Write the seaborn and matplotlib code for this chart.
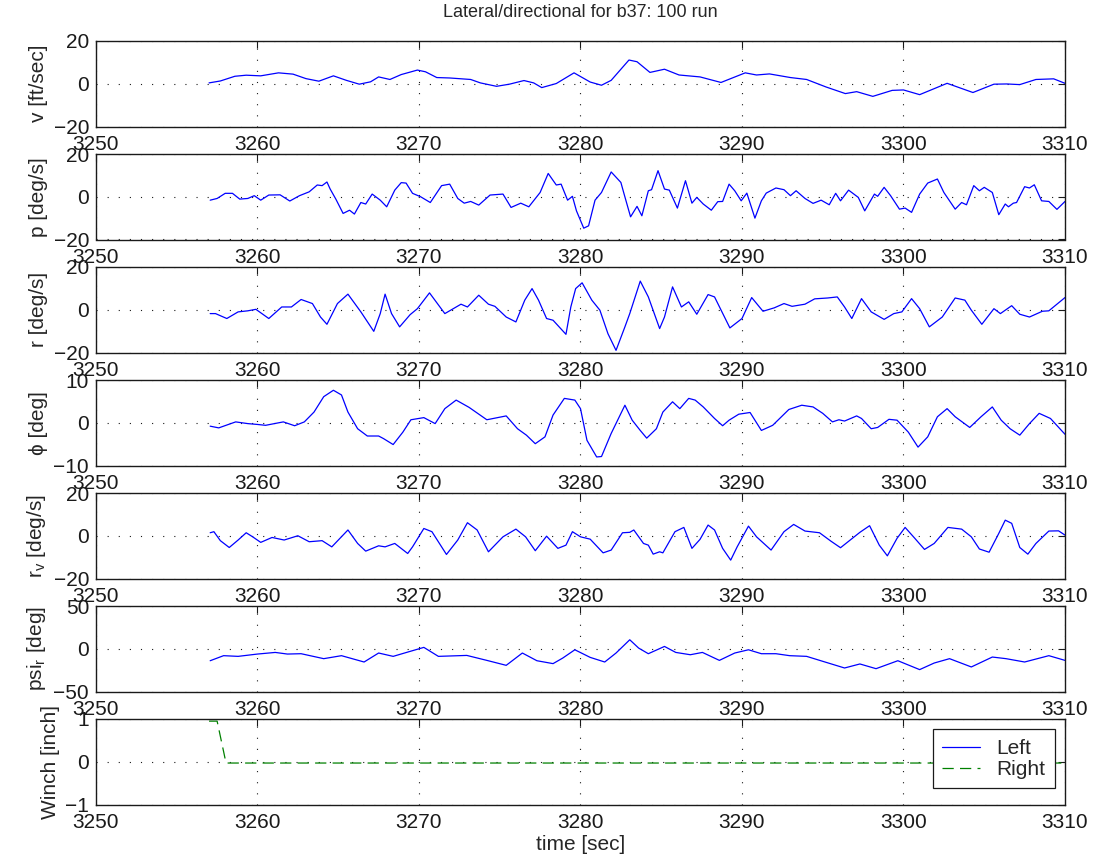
import numpy as np
import pandas as pd
import matplotlib
matplotlib.use("Agg")
import matplotlib.pyplot as plt
from matplotlib.lines import Line2D
import seaborn as sns

# ---------------- data ----------------
t_v = [3257.0, 3257.7, 3258.6, 3259.3, 3260.2, 3261.3, 3262.2, 3263.0, 3263.8, 3264.7,
       3265.5, 3266.3, 3267.0, 3267.5, 3268.2, 3268.9, 3269.9, 3270.4, 3271.1, 3271.9,
       3273.2, 3273.8, 3274.8, 3275.6, 3276.5, 3277.1, 3277.6, 3278.5, 3279.6, 3280.6,
       3281.3, 3281.9, 3283.0, 3283.5, 3284.3, 3285.2, 3286.1, 3287.4, 3288.7, 3290.2,
       3290.9, 3291.7, 3293.0, 3294.0, 3295.2, 3296.4, 3297.1, 3298.1, 3299.3, 3300.0,
       3301.0, 3302.7, 3304.3, 3305.6, 3306.4, 3307.2, 3308.2, 3309.3, 3310.0]
v = [0.4, 1.3, 3.5, 4.0, 3.7, 5.1, 4.5, 2.4, 1.2, 3.7,
     1.6, -0.2, 0.9, 3.2, 2.0, 4.3, 6.4, 5.6, 2.9, 2.7,
     2.0, 0.4, -1.2, -0.2, 1.5, 0.4, -1.8, 0.1, 5.1, 0.8,
     -0.7, 1.6, 11.1, 10.3, 5.3, 6.8, 4.1, 3.2, 0.6, 5.1,
     4.1, 4.6, 2.9, 2.0, -1.5, -4.6, -3.7, -5.9, -3.1, -2.9,
     -5.1, 0.2, -4.1, -0.2, -0.1, -0.4, 2.0, 2.3, 0.2]

t_p = [3257.07, 3257.5, 3258.0, 3258.45, 3258.9, 3259.4, 3259.8, 3260.2, 3260.7, 3261.4,
       3262.0, 3262.6, 3263.2, 3263.7, 3264.0, 3264.3, 3264.5, 3264.85, 3265.3, 3265.7,
       3266.0, 3266.4, 3266.7, 3267.1, 3267.6, 3268.0, 3268.5, 3268.9, 3269.2, 3269.6,
       3270.1, 3270.7, 3271.4, 3271.9, 3272.4, 3272.8, 3273.2, 3273.7, 3274.4, 3275.2,
       3275.7, 3276.3, 3276.8, 3277.5, 3278.0, 3278.5, 3278.8, 3279.2, 3279.5, 3279.75,
       3280.2, 3280.5, 3280.9, 3281.3, 3281.9, 3282.5, 3282.7, 3283.1, 3283.5, 3283.8,
       3284.2, 3284.4, 3284.8, 3285.2, 3285.5, 3286.0, 3286.5, 3286.9, 3287.2, 3287.6,
       3288.1, 3288.5, 3288.8, 3289.2, 3289.55, 3289.95, 3290.3, 3290.8, 3291.2, 3291.5,
       3292.1, 3292.6, 3293.0, 3293.35, 3293.9, 3294.4, 3294.9, 3295.4, 3295.8, 3296.1,
       3296.6, 3297.2, 3297.6, 3298.2, 3298.4, 3298.8, 3299.2, 3299.75, 3300.1, 3300.5,
       3301.0, 3301.5, 3302.1, 3302.5, 3303.2, 3303.6, 3303.9, 3304.35, 3304.7, 3305.0,
       3305.5, 3305.9, 3306.3, 3306.5, 3306.8, 3307.0, 3307.5, 3307.8, 3308.1, 3308.55,
       3309.0, 3309.5, 3310.0]
p = [-1.6, -0.8, 1.6, 1.6, -1.1, -0.8, 0.5, -1.6, 0.8, 0.9,
     -2.0, 0.5, 2.3, 5.5, 5.2, 6.9, 3.6, -1.1, -7.8, -6.3,
     -8.1, -2.7, -3.4, 1.25, -1.6, -4.7, 3.1, 6.6, 6.4, 1.6,
     0.0, -2.7, 5.2, 5.9, -0.8, -3.0, -2.2, -3.9, 0.8, 1.25,
     -5.0, -3.0, -4.7, 2.0, 10.9, 5.5, 5.9, -1.6, 0.2, -6.6,
     -14.7, -13.6, -1.6, 2.0, 11.6, 6.7, 1.25, -9.4, -4.5, -8.9,
     2.8, 3.3, 12.2, 3.6, 3.1, -5.3, 7.5, -3.0, -0.3, -3.4,
     -6.3, -2.3, -2.2, 5.9, 2.8, -1.9, 1.7, -10.0, -1.9, 1.7,
     4.1, 3.3, 0.5, 2.8, -0.8, -3.1, -1.6, -3.75, 1.6, -1.9,
     3.1, -0.3, -6.6, 1.25, 0.2, 4.4, 0.5, -5.8, -5.3, -7.3,
     1.25, 6.4, 8.3, 2.0, -5.8, -2.7, -3.75, 5.2, 2.8, 4.4,
     2.0, -8.4, -3.4, -4.7, -3.0, -2.7, 4.7, 4.1, 5.6, -1.9,
     -2.2, -5.9, -2.2]

t_r = [3257.07, 3257.4, 3258.1, 3258.8, 3259.4, 3259.9, 3260.7, 3261.5, 3262.1, 3262.7,
       3263.4, 3263.9, 3264.3, 3264.95, 3265.6, 3266.4, 3267.2, 3267.6, 3267.9, 3268.3,
       3268.8, 3269.45, 3269.9, 3270.65, 3271.6, 3272.6, 3273.0, 3273.7, 3274.3, 3274.7,
       3275.4, 3276.0, 3276.55, 3277.0, 3277.4, 3277.9, 3278.3, 3279.1, 3279.4, 3279.7,
       3280.1, 3280.7, 3281.2, 3281.7, 3282.2, 3282.75, 3283.05, 3283.7, 3284.2, 3284.9,
       3285.2, 3285.7, 3286.25, 3286.7, 3287.2, 3287.9, 3288.3, 3289.25, 3290.0, 3290.6,
       3291.3, 3292.0, 3292.6, 3293.1, 3293.9, 3294.5, 3295.3, 3295.9, 3296.35, 3296.8,
       3297.4, 3298.0, 3298.8, 3299.4, 3299.9, 3300.5, 3301.0, 3301.6, 3302.4, 3303.2,
       3303.8, 3304.2, 3304.85, 3305.6, 3306.0, 3306.7, 3307.2, 3307.8, 3308.6, 3309.0,
       3310.0]
r = [-1.8, -1.8, -4.1, -1.0, -0.5, 0.2, -4.1, 1.3, 1.3, 4.8,
     2.9, -3.4, -6.8, 2.9, 7.3, -1.0, -10.1, -1.8, 7.3, -1.8,
     -8.0, -2.3, 0.5, 7.9, -1.8, 2.6, 1.3, 6.8, 2.6, 1.6,
     -3.4, -5.7, 4.5, 9.9, 4.5, -4.1, -4.9, -11.5, 1.3, 9.9,
     12.6, 4.5, -0.2, -11.2, -19.0, -8.0, -1.8, 13.4, 6.0, -8.8,
     -3.4, 10.7, 1.3, 3.7, -2.1, 7.1, 6.0, -8.5, -4.1, 5.7,
     -0.7, 0.9, 2.9, 1.6, 2.6, 5.1, 5.5, 6.0, 1.3, -4.1,
     5.2, -1.0, -4.5, -1.8, -1.0, 5.2, 0.5, -8.0, -3.4, 5.5,
     4.5, -0.2, -6.8, 0.5, -1.8, 1.9, -2.1, -3.4, -0.7, -0.5,
     5.7]

t_phi = [3257.07, 3257.6, 3258.65, 3259.4, 3260.0, 3260.5, 3261.6, 3262.3, 3262.9, 3263.5,
         3264.1, 3264.7, 3265.2, 3265.6, 3266.2, 3266.8, 3267.5, 3267.8, 3268.4, 3269.0,
         3269.5, 3270.3, 3271.0, 3271.6, 3272.3, 3273.1, 3274.2, 3275.4, 3276.1, 3276.65,
         3277.2, 3277.8, 3278.3, 3279.0, 3279.65, 3280.0, 3280.4, 3281.0, 3281.3, 3281.9,
         3282.75, 3283.2, 3283.7, 3284.1, 3284.7, 3285.1, 3285.7, 3286.15, 3286.7, 3287.1,
         3287.6, 3288.3, 3288.8, 3289.2, 3289.8, 3290.5, 3291.2, 3291.9, 3292.9, 3293.7,
         3294.4, 3295.0, 3295.6, 3296.0, 3296.35, 3297.1, 3297.4, 3298.0, 3298.4, 3299.1,
         3299.6, 3300.3, 3300.9, 3301.5, 3302.1, 3302.7, 3303.2, 3304.1, 3304.8, 3305.5,
         3306.05, 3306.6, 3307.2, 3307.8, 3308.4, 3309.1, 3310.0]
phi = [-0.8, -1.2, 0.2, -0.2, -0.4, -0.6, 0.2, -0.7, 0.2, 2.5,
       6.1, 7.6, 6.5, 2.5, -1.4, -3.1, -3.1, -3.7, -5.1, -2.2,
       0.7, 1.2, -0.2, 3.3, 5.3, 3.6, 0.7, 1.6, -1.4, -2.9,
       -4.9, -3.3, 1.8, 5.7, 5.3, 3.3, -4.1, -8.0, -7.9, -2.5,
       4.1, 0.6, -1.8, -3.6, -1.4, 2.5, 4.9, 3.3, 5.7, 5.3,
       3.7, 1.0, -0.7, 0.6, 2.0, 2.4, -1.8, -0.6, 3.1, 4.1,
       3.7, 2.2, 0.2, 0.7, 0.4, 1.6, 1.0, -1.4, -1.1, 0.8,
       0.6, -2.2, -5.7, -3.3, 1.4, 3.3, 1.4, -1.1, 1.4, 3.7,
       0.6, -1.4, -2.9, -0.2, 2.2, 1.0, -2.7]

t_rv = [3257.07, 3257.3, 3257.7, 3258.25, 3258.8, 3259.3, 3259.7, 3260.2, 3260.9, 3261.65,
        3262.5, 3263.2, 3264.0, 3264.6, 3265.6, 3266.2, 3266.7, 3267.5, 3267.9, 3268.5,
        3269.3, 3269.6, 3270.3, 3270.8, 3271.7, 3272.4, 3273.0, 3273.6, 3274.3, 3275.2,
        3276.0, 3276.6, 3277.2, 3277.9, 3278.6, 3279.1, 3279.5, 3280.0, 3280.6, 3281.4,
        3281.9, 3282.6, 3283.05, 3283.3, 3283.9, 3284.2, 3284.5, 3284.9, 3285.1, 3285.85,
        3286.4, 3286.9, 3287.4, 3287.9, 3288.3, 3288.8, 3289.3, 3289.7, 3290.4, 3290.9,
        3291.8, 3292.6, 3293.2, 3293.9, 3294.8, 3295.5, 3296.1, 3296.7, 3297.3, 3297.9,
        3298.5, 3299.0, 3299.6, 3300.1, 3300.7, 3301.3, 3301.9, 3302.75, 3303.6, 3304.2,
        3304.7, 3305.3, 3305.9, 3306.3, 3306.7, 3307.2, 3307.7, 3308.2, 3309.0, 3309.6,
        3310.0]
rv = [1.4, 1.9, -2.3, -5.5, -2.0, 1.4, -0.5, -3.1, -0.8, -2.0,
      0.0, -2.8, -2.3, -5.2, 2.7, -3.6, -7.2, -4.7, -5.2, -3.6,
      -8.3, -5.2, 3.4, 1.9, -8.75, -2.0, 6.1, 2.7, -7.5, -0.5,
      3.1, -0.5, -7.0, -0.2, -5.9, -4.4, 1.9, -0.5, -1.6, -8.0,
      -6.7, 1.4, 1.6, 2.7, -3.6, -4.4, -8.6, -7.5, -8.0, 1.9,
      3.9, -5.9, -1.7, 5.0, 2.7, -5.9, -11.4, -5.2, 4.5, -0.5,
      -6.7, 1.9, 5.3, 2.2, 1.4, -2.5, -5.6, -2.0, 1.6, 4.7,
      -4.4, -9.4, -1.2, 3.9, -1.2, -6.4, -3.6, 3.9, 3.1, -0.5,
      -6.2, -7.7, 1.1, 7.3, 5.8, -5.5, -8.6, -3.6, 2.2, 2.3,
      0.3]

t_psi = [3257.07, 3257.9, 3258.8, 3260.0, 3261.1, 3261.85, 3262.7, 3264.1, 3265.2, 3266.6,
         3267.5, 3268.4, 3269.3, 3270.3, 3271.2, 3272.96, 3274.2, 3275.4, 3276.4, 3277.3,
         3278.3, 3278.9, 3279.65, 3280.6, 3281.5, 3282.2, 3283.05, 3283.6, 3284.2, 3285.2,
         3285.9, 3286.8, 3287.55, 3288.6, 3289.55, 3290.4, 3291.2, 3292.1, 3292.95, 3294.0,
         3295.0, 3296.35, 3297.3, 3298.3, 3299.65, 3301.0, 3301.9, 3302.85, 3304.2, 3305.5,
         3306.35, 3307.5, 3309.0, 3310.0]
psi = [-14.0, -8.1, -8.9, -6.2, -4.3, -6.2, -5.8, -11.6, -8.1, -15.5,
       -5.0, -8.9, -3.9, 1.6, -8.9, -7.8, -13.6, -19.4, -5.0, -14.0,
       -17.4, -10.9, -1.2, -10.1, -15.5, -5.0, 10.5, 0.8, -5.8, 2.7,
       -4.3, -7.0, -4.3, -13.6, -5.0, -1.2, -5.8, -5.8, -8.1, -8.9,
       -14.7, -22.5, -17.8, -23.3, -14.0, -24.4, -16.7, -11.6, -21.3, -9.7,
       -11.6, -15.5, -8.1, -13.6]

t_right = [3257.0, 3257.5, 3257.9, 3258.05, 3310.0]
winch_right = [0.95, 0.95, 0.24, -0.03, -0.03]

ylabels = ["v [ft/sec]", "p [deg/s]", "r [deg/s]", "\u03d5 [deg]",
           r"r$_\mathregular{v}$ [deg/s]", r"psi$_\mathregular{r}$ [deg]", "Winch [inch]"]
yticks = [[-20, 0, 20], [-20, 0, 20], [-20, 0, 20], [-10, 0, 10],
          [-20, 0, 20], [-50, 0, 50], [-1, 0, 1]]
xticks = [3250, 3260, 3270, 3280, 3290, 3300, 3310]
legend_labels = ["Left", "Right"]
title = "Lateral/directional for b37: 100 run"
xlabel = "time [sec]"

# ---------------- style ----------------
sns.set_theme(style="white")
plt.rcParams["font.family"] = ["Liberation Sans", "DejaVu Sans"]
plt.rcParams["mathtext.fontset"] = "dejavusans"
plt.rcParams["axes.unicode_minus"] = True

BLUE = "#0000ff"
GREEN = "#008000"
FS = 15

W, H = 1097, 867
fig = plt.figure(figsize=(W / 100, H / 100), dpi=100)
fig.patch.set_facecolor("white")

series = [(t_v, v), (t_p, p), (t_r, r), (t_phi, phi), (t_rv, rv), (t_psi, psi)]

axes = []
for i in range(7):
    top = 41 + 113 * i
    ax = fig.add_axes([96 / W, 1 - (top + 85.5) / H, 969 / W, 85.5 / H])
    axes.append(ax)
    if i < 6:
        tt, yy = series[i]
        df = pd.DataFrame({"t": tt, "y": yy})
        sns.lineplot(data=df, x="t", y="y", ax=ax, color=BLUE, lw=0.9,
                     estimator=None, sort=False)
    else:
        df = pd.DataFrame({"t": t_right, "y": winch_right})
        sns.lineplot(data=df, x="t", y="y", ax=ax, color=GREEN, lw=0.9,
                     estimator=None, sort=False)
        ax.lines[-1].set_dashes([9, 5])
    ax.set_xlim(3250, 3310)
    ax.set_xticks(xticks)
    ax.set_xticklabels([str(x) for x in xticks])
    yt = yticks[i]
    ax.set_ylim(yt[0], yt[-1])
    ax.set_yticks(yt)
    ax.set_ylabel(ylabels[i], fontsize=FS)
    ax.set_xlabel("")
    ax.grid(True, color="k", lw=0.8, linestyle=(0, (1, 9)))
    ax.set_axisbelow(True)
    ax.tick_params(axis="both", which="major", direction="in", top=True, right=True,
                   length=5, width=0.8, colors="k", labelsize=FS)
    ax.tick_params(axis="x", pad=6)
    ax.tick_params(axis="y", pad=5)
    for s in ax.spines.values():
        s.set_color("k")
        s.set_linewidth(1.0)
    ax.set_facecolor("white")

axes[0].set_title(title, fontsize=13, pad=17)
axes[-1].set_xlabel(xlabel, fontsize=FS, labelpad=2)

handles = [Line2D([], [], color=BLUE, lw=0.9),
           Line2D([], [], color=GREEN, lw=0.9, dashes=[9, 5])]
leg = axes[-1].legend(handles, legend_labels, loc="upper right", fontsize=FS,
                      frameon=True, fancybox=False, framealpha=1, edgecolor="k",
                      handlelength=1.8, borderpad=0.45, labelspacing=0.1,
                      handletextpad=0.8, borderaxespad=0.5)
leg.get_frame().set_linewidth(0.9)

fig.savefig("out.png", dpi=100, facecolor="white")
